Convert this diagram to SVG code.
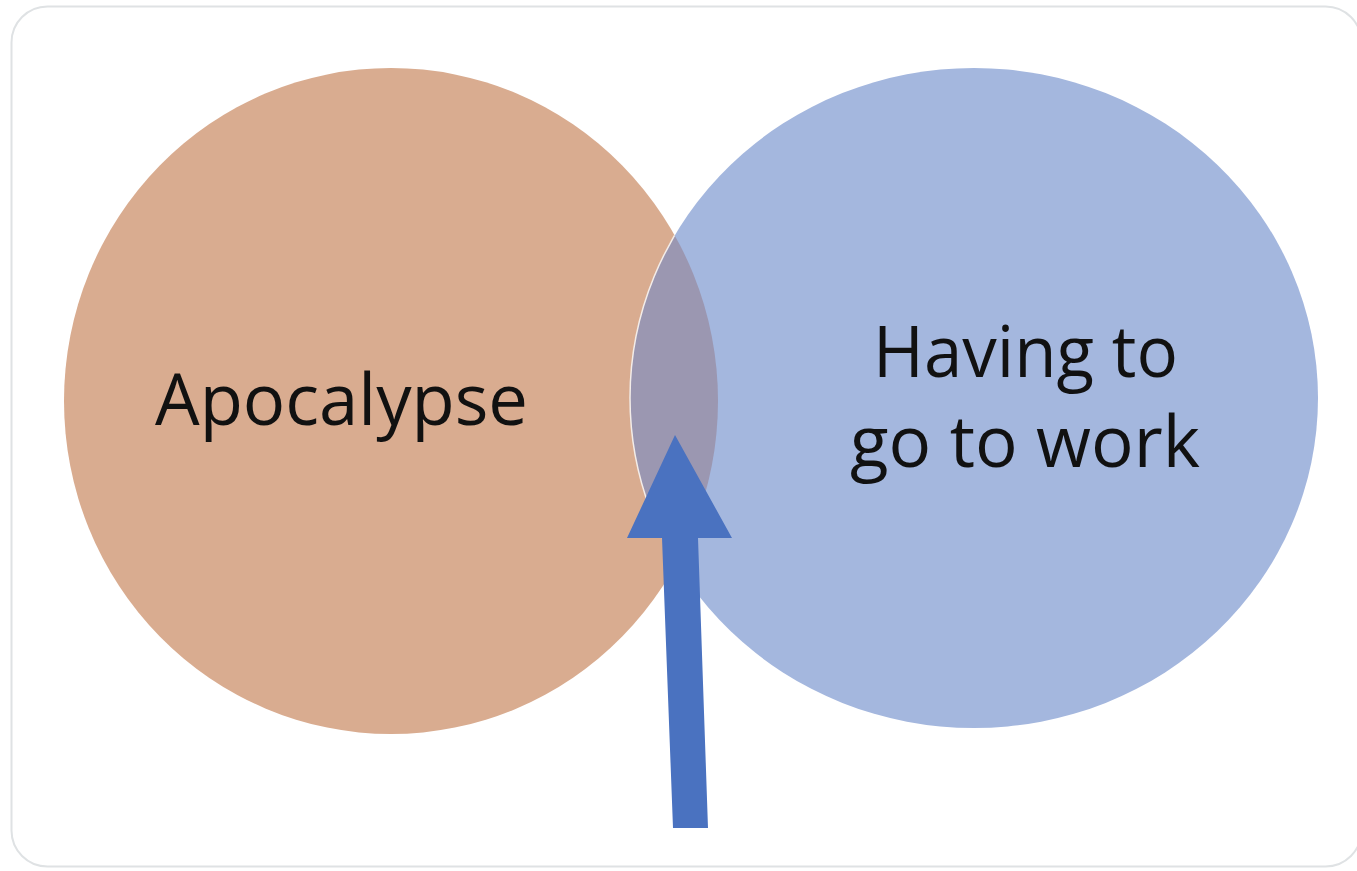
<svg xmlns="http://www.w3.org/2000/svg" width="1357" height="871" viewBox="0 0 1357 871">
  <style>
    .label { font-family: "Open Sans", "Noto Sans", "Liberation Sans", sans-serif; font-size: 72px; fill: #111111; }
  </style>
  <defs>
    <clipPath id="clipLeft">
      <ellipse cx="391" cy="401" rx="327" ry="333"/>
    </clipPath>
  </defs>
  <rect x="0" y="0" width="1357" height="871" fill="#ffffff"/>
  <rect x="11.5" y="6.5" width="1350" height="860" rx="36" ry="36" fill="#ffffff" stroke="#dfe2e4" stroke-width="2"/>

  <g id="node-apocalypse">
    <ellipse cx="391" cy="401" rx="327" ry="333" fill="#d9ac90"/>
    <text class="label" x="155" y="425" textLength="373" lengthAdjust="spacingAndGlyphs">Apocalypse</text>
  </g>

  <g id="node-work">
    <ellipse cx="974" cy="398" rx="344" ry="330" fill="#a4b7de"/>
    <text class="label" x="873" y="377" textLength="305" lengthAdjust="spacingAndGlyphs">Having to</text>
    <text class="label" x="850" y="467" textLength="350" lengthAdjust="spacingAndGlyphs">go to work</text>
  </g>

  <g id="node-overlap">
    <ellipse cx="974" cy="398" rx="344" ry="330" fill="#9b97b1" clip-path="url(#clipLeft)"/>
    <ellipse cx="974" cy="398" rx="344" ry="330" fill="none" stroke="#f3ece8" stroke-width="1.5" clip-path="url(#clipLeft)"/>
  </g>

  <g id="connectors">
    <polygon points="675,435 732,538 698,538 708,828 673,828 662,538 627,538" fill="#4a72c0"/>
  </g>
</svg>
